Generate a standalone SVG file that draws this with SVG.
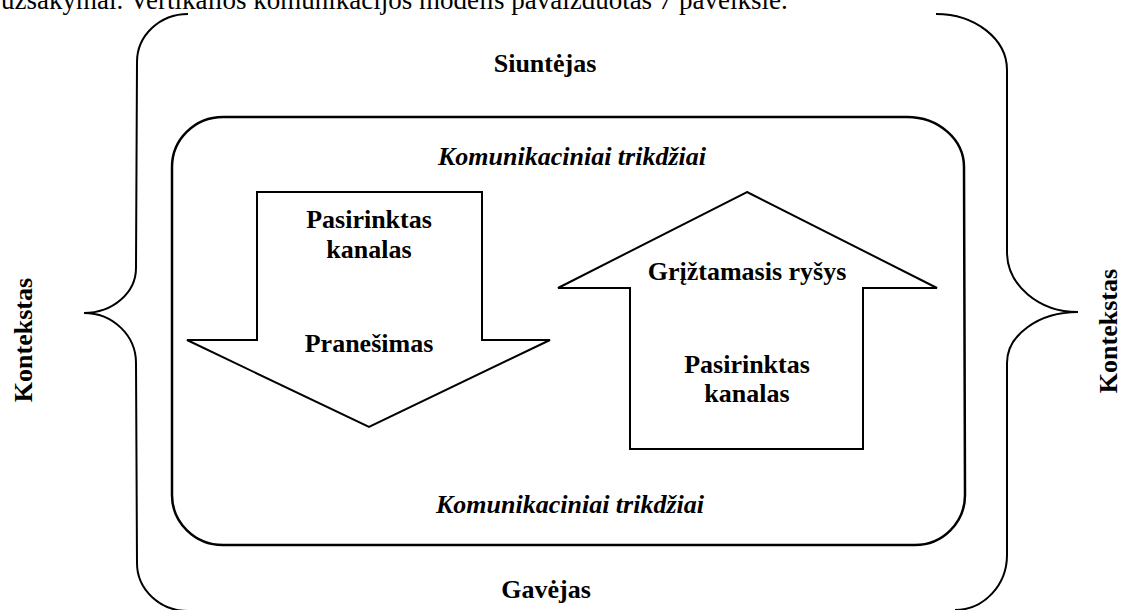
<svg xmlns="http://www.w3.org/2000/svg" width="1123" height="610" viewBox="0 0 1123 610">
<style>
.ln{fill:none;stroke:#000;stroke-width:2}
.shape{fill:#fff;stroke:#000;stroke-width:2;stroke-linejoin:miter}
.t{font-family:"Liberation Serif","Times New Roman",serif;font-size:26px;font-weight:bold;fill:#000;text-anchor:middle}
.i{font-style:italic}
.p{font-family:"Liberation Serif","Times New Roman",serif;font-size:27px;fill:#000}
</style>
<rect width="1123" height="610" fill="#fff"/>
<text class="p" x="1" y="9">užsakymai. Vertikalios komunikacijos modelis pavaizduotas 7 paveiksle.</text>
<g id="outer-left-brace">
<path class="ln" d="M188,14 A51,48 0 0 0 137,62 L136,268 A52,45 0 0 1 84,313 A52,50 0 0 1 136,363 L137,563 A51,48 0 0 0 188,611"/>
</g>
<g id="outer-right-brace">
<path class="ln" d="M936,14 A71,56 0 0 1 1007,70 L1007,252 A71,60 0 0 0 1078,312 A71,51 0 0 0 1007,363 L1007,555 A52,55 0 0 1 955,610"/>
</g>
<g id="inner-frame">
<path class="ln" style="stroke-width:2.5" d="M223,117 L907,117 A57,50 0 0 1 964,167 L965,495 A50,50 0 0 1 915,545 L223,545 A51,50 0 0 1 172,495 L172,167 A51,50 0 0 1 223,117 Z"/>
</g>
<g id="labels">
<text class="t" x="545" y="72">Siuntėjas</text>
<text class="t i" x="572" y="165">Komunikaciniai trikdžiai</text>
<text class="t i" x="570" y="513">Komunikaciniai trikdžiai</text>
<text class="t" x="546" y="598">Gavėjas</text>
<text class="t" transform="translate(32,340) rotate(-90)" x="0" y="0">Kontekstas</text>
<text class="t" transform="translate(1117,331) rotate(-90)" x="0" y="0">Kontekstas</text>
</g>
<g id="down-arrow">
<polygon class="shape" points="257,192 482,192 482,340 550,340 369,427 187,340 257,340"/>
<text class="t" x="369" y="228">Pasirinktas</text>
<text class="t" x="369" y="258">kanalas</text>
<text class="t" x="369" y="352">Pranešimas</text>
</g>
<g id="up-arrow">
<polygon class="shape" points="747,192 937,288 863,288 863,449 630,449 630,288 558,288"/>
<text class="t" x="747" y="280">Grįžtamasis ryšys</text>
<text class="t" x="747" y="373">Pasirinktas</text>
<text class="t" x="747" y="402">kanalas</text>
</g>
<g id="connectors"></g>
</svg>
